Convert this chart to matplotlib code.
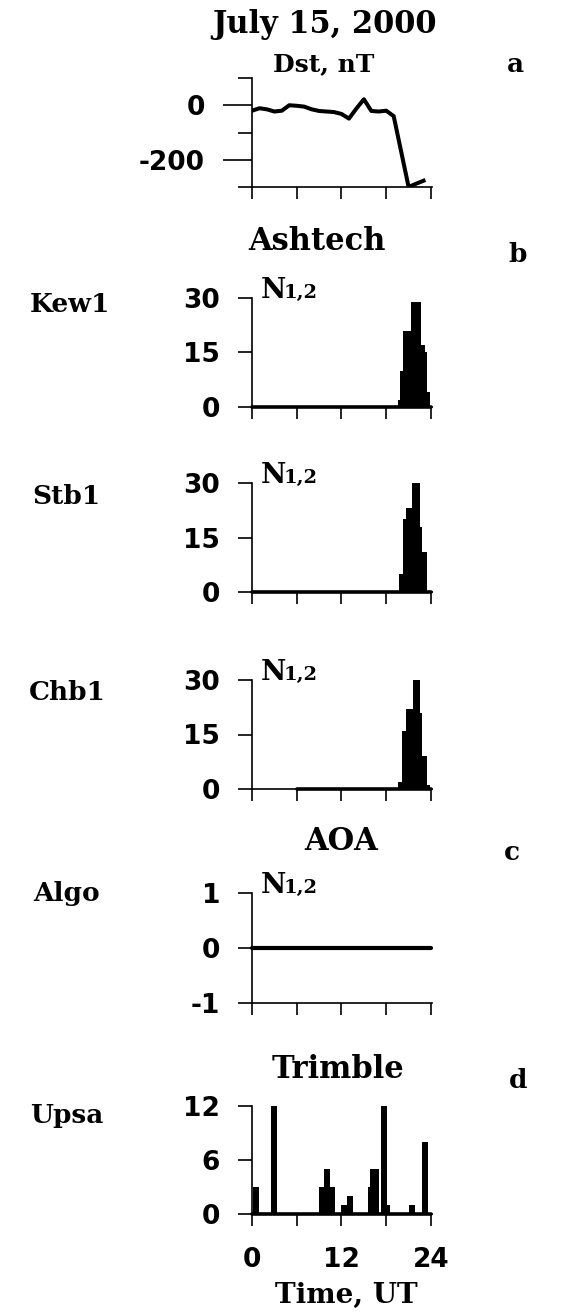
import matplotlib.pyplot as plt

# ---------------------------------------------------------------
# Data (July 15, 2000 storm)
# ---------------------------------------------------------------
dst_hours = list(range(24))
dst_nt = [-20, -11, -15, -23, -20, 0, -2, -5, -15, -21, -23, -25,
          -32, -49, -12, 22, -21, -23, -20, -40, -170, -300, -288, -277]

# Ashtech receivers: N1,2 histograms (bin edges in UT hours, counts)
kew1_edges = [19.6, 19.85, 20.3, 21.3, 22.6, 23.2, 23.5, 23.9]
kew1_counts = [2, 10, 21, 29, 17, 15, 4]
kew1_span = [0, 24]

stb1_edges = [19.75, 20.2, 20.7, 21.4, 22.5, 22.75, 23.4]
stb1_counts = [5, 20, 23, 30, 18, 11]
stb1_span = [0, 24]

chb1_edges = [19.6, 20.05, 20.7, 21.6, 22.5, 22.75, 23.5, 23.9]
chb1_counts = [2, 16, 22, 30, 21, 9, 1]
chb1_span = [6, 24]

# AOA receiver: nothing detected
algo_span = [0, 24]

# Trimble receiver
upsa_hours = [0.55, 3.0, 9.4, 10.0, 10.7, 12.35, 13.1, 15.9, 16.2, 16.6,
              17.7, 18.1, 21.4, 23.2]
upsa_counts = [3, 12, 3, 5, 3, 1, 2, 3, 5, 5, 12, 1, 1, 8]
upsa_span = [0, 24]

x_ticks = [0, 6, 12, 18, 24]
x_labels = ["0", "", "12", "", "24"]

# ---------------------------------------------------------------
W, H = 579, 1314
fig = plt.figure(figsize=(W / 100, H / 100), dpi=100)
plt.rcParams['font.family'] = ['DejaVu Sans']
plt.rcParams['font.weight'] = 'bold'
plt.rcParams['axes.unicode_minus'] = False

SERIF = ['DejaVu Serif']
PX_PER_HOUR = 7.458


def new_axes(top, bottom):
    left = 252
    width = 24.2 * PX_PER_HOUR
    return fig.add_axes([left / W, 1 - bottom / H, width / W, (bottom - top) / H])


def style(ax, yticks, ylim, bottom_labels=False):
    ax.set_xlim(0, 24.2)
    ax.set_ylim(*ylim)
    for s in ['top', 'right']:
        ax.spines[s].set_visible(False)
    for s in ['left', 'bottom']:
        ax.spines[s].set_linewidth(1.2)
    ax.set_yticks(yticks)
    ax.set_xticks(x_ticks)
    if bottom_labels:
        ax.set_xticklabels(x_labels)
    else:
        ax.set_xticklabels([])
    ax.tick_params(axis='y', which='major', direction='out', length=10,
                   width=1.2, pad=13, labelsize=19)
    ax.tick_params(axis='x', which='major', direction='out', length=8.5,
                   width=1.2, pad=15, labelsize=19)
    ax.patch.set_alpha(0)


def n12(ax):
    ax.text(0.05, 1.0, "N", transform=ax.transAxes, family=SERIF,
            fontsize=20, va='baseline', ha='left')
    ax.annotate("1,2", xy=(0.05, 1.0), xycoords='axes fraction',
                xytext=(16, 0), textcoords='offset points', family=SERIF,
                fontsize=14, va='baseline', ha='left')


def ftext(x, y, s, size, **kw):
    fig.text(x / W, 1 - y / H, s, family=SERIF, fontsize=size,
             ha='center', va='center', **kw)


# --- a: Dst ---
ax = new_axes(78, 187)
ax.plot(dst_hours, dst_nt, color='k', lw=2.9, solid_joinstyle='round')
style(ax, [0, -200], (-300, 100))
ax.set_yticks([100, -100, -300], minor=True)
ax.tick_params(axis='y', which='major', length=21)
ax.tick_params(axis='y', which='minor', direction='out', length=10, width=1.2)

# --- b: Ashtech ---
for top, bottom, edges, counts, span in [
        (298, 407, kew1_edges, kew1_counts, kew1_span),
        (483, 592, stb1_edges, stb1_counts, stb1_span),
        (680, 789, chb1_edges, chb1_counts, chb1_span)]:
    ax = new_axes(top, bottom)
    ax.plot(span, [0, 0], color='k', lw=2.6, solid_capstyle='round', clip_on=False)
    ax.stairs(counts, edges, fill=True, color='k', baseline=0)
    style(ax, [0, 15, 30], (0, 30))
    n12(ax)

# --- c: AOA ---
ax = new_axes(893, 1003)
ax.plot(algo_span, [0, 0], color='k', lw=3, solid_capstyle='round', clip_on=False)
style(ax, [-1, 0, 1], (-1, 1))
n12(ax)

# --- d: Trimble ---
ax = new_axes(1106, 1214)
ax.plot(upsa_span, [0, 0], color='k', lw=2.6, solid_capstyle='round', clip_on=False)
ax.bar(upsa_hours, upsa_counts, width=0.8, color='k')
style(ax, [0, 6, 12], (0, 12), bottom_labels=True)

# --- titles and labels ---
ftext(325, 25, "July 15, 2000", 22)
ftext(324, 64, "Dst, nT", 18)
ftext(515, 64, "a", 19)
ftext(317, 242, "Ashtech", 22)
ftext(518, 255, "b", 19)
ftext(341, 842, "AOA", 22)
ftext(512, 852, "c", 19)
ftext(338, 1069, "Trimble", 22)
ftext(518, 1080, "d", 19)
ftext(346, 1295, "Time, UT", 20)

ftext(70, 304, "Kew1", 19)
ftext(66, 497, "Stb1", 19)
ftext(67, 693, "Chb1", 19)
ftext(67, 893, "Algo", 19)
ftext(67, 1116, "Upsa", 19)

plt.savefig("out.png", dpi=100)
plt.close()
